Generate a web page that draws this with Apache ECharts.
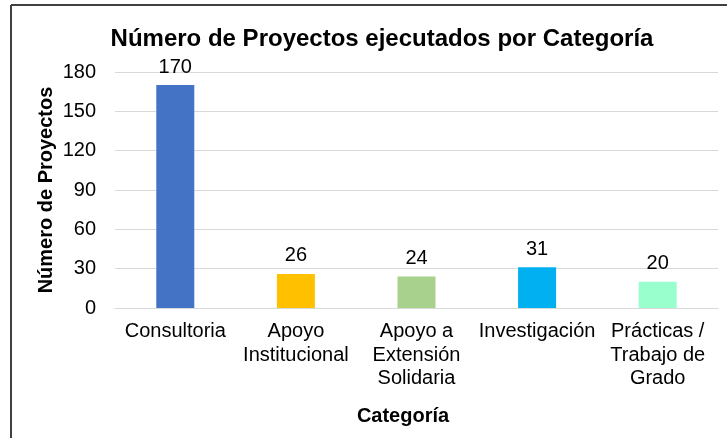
<!DOCTYPE html>
<html><head><meta charset="utf-8">
<script src="https://cdn.jsdelivr.net/npm/echarts@6/dist/echarts.min.js"></script>
<style>html,body{margin:0;padding:0;background:#fff}#c{width:727px;height:438px}</style>
</head><body><div id="c"></div>
<script>
const categories = ['Consultoria', 'Apoyo\nInstitucional', 'Apoyo a\nExtensión\nSolidaria', 'Investigación', 'Prácticas /\nTrabajo de\nGrado'];
const values = [170, 26, 24, 31, 20];
const barColors = ['#4472C4', '#FFC000', '#A9D18E', '#00B0F0', '#99FFCC'];
const yTicks = [0, 30, 60, 90, 120, 150, 180];

const font = '"Liberation Sans", Arial, sans-serif';
const chart = echarts.init(document.getElementById('c'));
chart.setOption({
  animation: false,
  backgroundColor: '#fff',
  title: [
    { text: 'Número de Proyectos ejecutados por Categoría', left: 377, top: 22, textAlign: 'center',
      textStyle: { fontFamily: font, fontWeight: 'bold', fontSize: 24, color: '#000' } },
    { text: 'Categoría', left: 398, top: 401, textAlign: 'center',
      textStyle: { fontFamily: font, fontWeight: 'bold', fontSize: 20, color: '#000' } }
  ],
  graphic: [
    { type: 'line', shape: { x1: 11, y1: 5, x2: 727, y2: 5 }, style: { stroke: '#404040', lineWidth: 2 } },
    { type: 'line', shape: { x1: 11, y1: 5, x2: 11, y2: 438 }, style: { stroke: '#404040', lineWidth: 2 } },
    { type: 'text', x: 46, y: 190, rotation: Math.PI / 2,
      style: { text: 'Número de Proyectos', font: 'bold 20px ' + font, fill: '#000', align: 'center', verticalAlign: 'middle' } }
  ],
  grid: { left: 115, top: 72, width: 603, bottom: 130 },
  xAxis: {
    type: 'category', data: categories,
    axisLine: { lineStyle: { color: '#D9D9D9', width: 1 } },
    axisTick: { show: false },
    axisLabel: { fontFamily: font, fontSize: 20, color: '#000', lineHeight: 23.5, margin: 12, interval: 0 }
  },
  yAxis: {
    type: 'value', min: 0, max: 180, interval: 30,
    axisLine: { show: false }, axisTick: { show: false },
    axisLabel: { fontFamily: font, fontSize: 20, color: '#000', margin: 19,
      formatter: v => yTicks.includes(v) ? String(v) : '' },
    splitLine: { lineStyle: { color: '#D9D9D9', width: 1 } }
  },
  series: [{
    type: 'bar', barWidth: 38,
    data: values.map((v, i) => ({ value: v, itemStyle: { color: barColors[i] } })),
    label: { show: true, position: 'top', distance: 8, fontFamily: font, fontSize: 20, color: '#000' }
  }]
});
</script></body></html>
